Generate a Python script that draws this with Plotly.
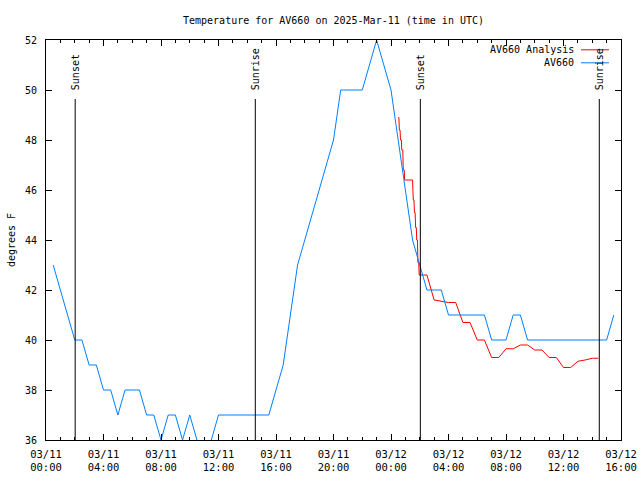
import pandas as pd
import plotly.graph_objects as go

# ---- data (hours after 2025-03-11 00:00 UTC) ----
base_time = "2025-03-11 00:00"

obs_hours = [0.5, 1.0, 1.5, 2.0, 2.5, 3.0, 3.5, 4.0, 4.5, 5.0, 5.5, 6.0, 6.5, 7.0, 7.5,
             8.0, 8.5, 9.0, 9.5, 10.0, 10.5, 11.0, 11.5, 12.0, 12.5, 13.0, 13.5, 14.0,
             14.5, 15.0, 15.5, 16.0, 16.5, 17.0, 17.5, 18.0, 18.5, 19.0, 19.5, 20.0,
             20.5, 21.0, 21.5, 22.0, 22.5, 23.0, 23.5, 24.0, 24.5, 25.0, 25.5, 26.0,
             26.5, 27.0, 27.5, 28.0, 28.5, 29.0, 29.5, 30.0, 30.5, 31.0, 31.5, 32.0,
             32.5, 33.0, 33.5, 34.0, 34.5, 35.0, 35.5, 36.0, 36.5, 37.0, 37.5, 38.0,
             38.5, 39.0, 39.5]
obs_temp = [43, 42, 41, 40, 40, 39, 39, 38, 38, 37, 38, 38, 38, 37, 37,
            36, 37, 37, 36, 37, 36, 35, 36, 37, 37, 37, 37, 37,
            37, 37, 37, 38, 39, 41, 43, 44, 45, 46, 47, 48,
            50, 50, 50, 50, 51, 52, 51, 50, 48, 46, 44, 43,
            42, 42, 42, 41, 41, 41, 41, 41, 41, 40, 40, 40,
            41, 41, 40, 40, 40, 40, 40, 40, 40, 40, 40, 40,
            40, 40, 41]

ana_hours = [24.50, 24.55, 24.58, 24.63, 24.66, 24.72, 24.75, 24.82, 24.85, 24.92,
             24.95, 25.50, 25.55, 25.60, 25.63, 25.68, 25.71, 25.76, 25.79, 25.84,
             25.87, 25.93, 25.96, 26.50, 27.0, 27.5, 28.0, 28.5, 29.0, 29.5, 30.0,
             30.5, 31.0, 31.5, 32.0, 32.5, 33.0, 33.5, 34.0, 34.5, 35.0, 35.5, 36.0,
             36.5, 37.0, 37.5, 38.0, 38.42]
ana_temp = [48.9, 48.9, 48.4, 48.4, 48.0, 48.0, 47.6, 47.6, 46.8, 46.8,
            46.4, 46.4, 45.6, 45.6, 45.1, 45.1, 44.5, 44.5, 44.0, 44.0,
            43.1, 43.1, 42.6, 42.6, 41.6, 41.55, 41.5, 41.5, 40.7, 40.7, 40.0,
            40.0, 39.3, 39.3, 39.65, 39.65, 39.8, 39.8, 39.6, 39.6, 39.3, 39.3, 38.9,
            38.9, 39.15, 39.2, 39.27, 39.27]

sun_hours = [2.03, 14.56, 26.04, 38.49]
sun_labels = ["Sunset", "Sunrise", "Sunset", "Sunrise"]

series_names = ["AV660 Analysis", "AV660"]
series_colors = ["#ff0000", "#0080ff"]

x_start = "2025-03-11 00:00"
x_end = "2025-03-12 16:00"
y_min, y_max = 36, 52

title_text = "Temperature for AV660 on 2025-Mar-11 (time in UTC)"
y_title = "degrees F"

# ---- build ----
t0 = pd.Timestamp(base_time)
def to_time(hours):
    return [t0 + pd.Timedelta(hours=h) for h in hours]

FONT = "DejaVu Sans Mono"
fig = go.Figure()

fig.add_trace(go.Scatter(x=to_time(ana_hours), y=ana_temp, mode="lines",
                         line=dict(color=series_colors[0], width=1),
                         name=series_names[0], showlegend=False))
fig.add_trace(go.Scatter(x=to_time(obs_hours), y=obs_temp, mode="lines",
                         line=dict(color=series_colors[1], width=1),
                         name=series_names[1], showlegend=False))

for t, lab in zip(to_time(sun_hours), sun_labels):
    fig.add_shape(type="line", xref="x", yref="paper", x0=t, x1=t, y0=0, y1=0.8525,
                  line=dict(color="black", width=1))
    fig.add_annotation(x=t, xref="x", y=0.87, yref="paper", text=lab,
                       textangle=-90, showarrow=False, xanchor="center",
                       yanchor="bottom", font=dict(family=FONT, size=10, color="black"))

# legend drawn gnuplot-style (sample on the right)
leg_y = [0.9755, 0.943]
for name, col, yy in zip(series_names, series_colors, leg_y):
    fig.add_annotation(x=0.921, xref="paper", y=yy, yref="paper", text=name,
                       showarrow=False, xanchor="right", yanchor="middle",
                       font=dict(family=FONT, size=10, color="black"))
    fig.add_shape(type="line", xref="paper", yref="paper", x0=0.9304, x1=0.979,
                  y0=yy, y1=yy, line=dict(color=col, width=1))

fig.update_layout(
    width=640, height=480,
    margin=dict(l=46, r=19, t=40, b=40, autoexpand=False),
    paper_bgcolor="white", plot_bgcolor="white",
    font=dict(family=FONT, size=10, color="black"),
    title=dict(text=title_text, x=0.5, xref="paper", y=1 - 20 / 480, yref="container",
               xanchor="center", yanchor="middle",
               font=dict(family=FONT, size=10, color="black")),
    showlegend=False,
)
fig.update_xaxes(
    type="date", range=[x_start, x_end],
    dtick=4 * 3600 * 1000, tick0=x_start, tickformat="%m/%d<br>%H:%M",
    ticks="inside", ticklen=6, tickcolor="black",
    minor=dict(dtick=3600 * 1000, ticks="inside", ticklen=3, tickcolor="black"),
    showline=True, linecolor="black", linewidth=1, mirror="allticks",
    showgrid=False, zeroline=False, automargin=False,
    ticklabelstandoff=4,
    tickfont=dict(family=FONT, size=10.5, color="black"),
)
fig.update_yaxes(
    range=[y_min, y_max], dtick=2, tick0=36,
    ticks="inside", ticklen=6, tickcolor="black",
    showline=True, linecolor="black", linewidth=1, mirror="allticks",
    showgrid=False, zeroline=False, automargin=False,
    ticklabelstandoff=6,
    tickfont=dict(family=FONT, size=10, color="black"),
    title=dict(text=y_title, standoff=7, font=dict(family=FONT, size=10, color="black")),
)

fig.write_html("out.html", config={"displayModeBar": False},
               post_script="document.body.style.margin='0';document.body.style.padding='0';")
